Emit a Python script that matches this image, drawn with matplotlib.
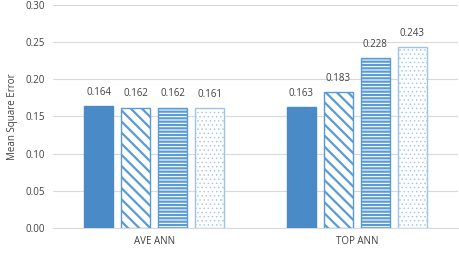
import matplotlib

matplotlib.use("Agg")
import matplotlib.pyplot as plt
import numpy as np

groups = ["AVE ANN", "TOP ANN"]
series_values = [
    [0.164, 0.163],
    [0.162, 0.183],
    [0.162, 0.228],
    [0.161, 0.243],
]
yticks = [0.00, 0.05, 0.10, 0.15, 0.20, 0.25, 0.30]

STYLES = [
    dict(color="#4a8ac6", edgecolor="#4a8ac6", hatch=None, hlw=1.0),
    dict(color="white", edgecolor="#5b9bd5", hatch="\\\\\\", hlw=1.6),
    dict(color="white", edgecolor="#5b9bd5", hatch="-----", hlw=1.6),
    dict(color="white", edgecolor="#9cc3ea", hatch="....", hlw=0.5),
]

plt.rcParams["font.family"] = ["Open Sans", "DejaVu Sans"]

fig = plt.figure(figsize=(4.6, 2.6), dpi=100)
ax = fig.add_axes([0.115, 0.123, 0.881, 0.858])

x = np.arange(len(groups))
width = 0.143
step = 0.183
for i, vals in enumerate(series_values):
    off = (i - 1.5) * step
    st = STYLES[i]
    plt.rcParams["hatch.linewidth"] = st["hlw"]
    bars = ax.bar(x + off, vals, width, color=st["color"], edgecolor=st["edgecolor"],
                  hatch=st["hatch"], linewidth=1.0, zorder=3)
    for b, v in zip(bars, vals):
        ax.text(b.get_x() + b.get_width() / 2, v + 0.011, f"{v:.3f}",
                ha="center", va="bottom", fontsize=7, color="#404040")

ax.set_xlim(-0.5, 1.5)
ax.set_ylim(0, 0.30)
ax.set_yticks(yticks)
ax.set_yticklabels([f"{t:.2f}" for t in yticks], fontsize=7, color="#404040")
ax.set_xticks(x)
ax.set_xticklabels(groups, fontsize=7, color="#404040")
ax.set_ylabel("Mean Square Error", fontsize=7, color="#404040", labelpad=5)
ax.grid(True, axis="y", color="#d9d9d9", linewidth=0.8, zorder=0)
for s in ["top", "right", "left"]:
    ax.spines[s].set_visible(False)
ax.spines["bottom"].set_color("#d9d9d9")
ax.tick_params(length=0, pad=6)

fig.savefig("out.png", dpi=100)
